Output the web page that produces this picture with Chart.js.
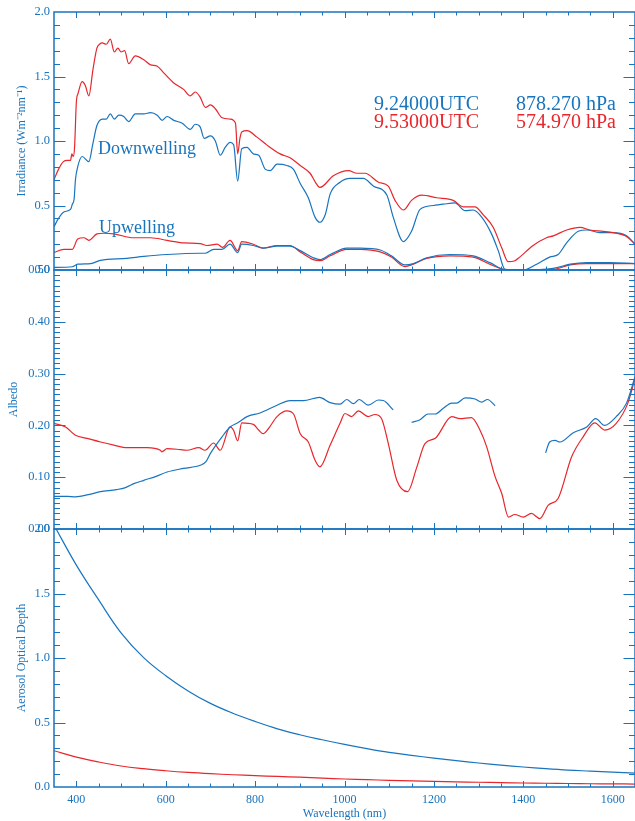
<!DOCTYPE html>
<html>
<head>
<meta charset="utf-8">
<script src="https://cdn.jsdelivr.net/npm/chart.js@4.4.1/dist/chart.umd.min.js"></script>
<style>
  html, body { margin: 0; padding: 0; background: #fff; overflow: hidden; width: 635px; height: 821px; }
  canvas { position: absolute; left: 0; }
</style>
</head>
<body>
<canvas id="irr" width="637" height="290" style="top:0"></canvas>
<canvas id="alb" width="637" height="300" style="top:250px"></canvas>
<canvas id="aod" width="637" height="312" style="top:509px"></canvas>
<script>
const BLUE = '#1874be';
const RED = '#e8262b';
const FONT = '"Liberation Serif", "Times New Roman", serif';

const xTicks = [400, 600, 800, 1000, 1200, 1400, 1600];
const irrTicks = [0, 0.5, 1.0, 1.5, 2.0];
const albTicks = [0, 0.1, 0.2, 0.3, 0.4, 0.5];
const aodTicks = [0, 0.5, 1.0, 1.5, 2.0];

// downwelling irradiance, 9.53 UTC (red)
const dnRedWl  = [350, 360, 371, 380, 387, 390, 393, 396, 400, 404, 413, 420, 428, 437, 446, 452, 458, 467, 476, 485, 493, 500, 508, 517, 532, 551, 566, 581, 595, 618, 640, 655, 666, 677, 689, 700, 711, 726, 744, 756, 761, 766, 770, 782, 804, 826, 856, 878, 901, 923, 935, 945, 975, 1009, 1028, 1046, 1076, 1098, 1113, 1132, 1150, 1173, 1206, 1243, 1266, 1292, 1310, 1333, 1352, 1366, 1380, 1392, 1422, 1452, 1467, 1497, 1527, 1549, 1579, 1601, 1631, 1650];
const dnRedVal = [0.70, 0.78, 0.84, 0.85, 0.85, 0.90, 0.88, 0.95, 1.30, 1.37, 1.46, 1.43, 1.35, 1.55, 1.72, 1.75, 1.76, 1.75, 1.79, 1.69, 1.72, 1.69, 1.70, 1.60, 1.66, 1.63, 1.59, 1.58, 1.53, 1.45, 1.40, 1.35, 1.38, 1.34, 1.26, 1.28, 1.25, 1.18, 1.17, 1.14, 0.90, 1.02, 1.07, 1.08, 1.03, 0.97, 0.90, 0.87, 0.81, 0.75, 0.68, 0.64, 0.73, 0.77, 0.75, 0.75, 0.68, 0.65, 0.54, 0.465, 0.54, 0.58, 0.56, 0.54, 0.49, 0.49, 0.43, 0.33, 0.17, 0.065, 0.07, 0.10, 0.19, 0.25, 0.265, 0.31, 0.33, 0.31, 0.30, 0.29, 0.26, 0.20];

// downwelling irradiance, 9.24 UTC (blue)
const dnBlueWl  = [350, 360, 372, 387, 391, 395, 398, 403, 413, 428, 437, 446, 458, 467, 476, 485, 495, 506, 517, 532, 551, 566, 581, 592, 603, 618, 636, 655, 666, 677, 686, 700, 711, 722, 733, 744, 752, 761, 770, 782, 796, 808, 823, 834, 849, 871, 886, 901, 919, 934, 945, 957, 968, 990, 1012, 1042, 1065, 1095, 1109, 1132, 1150, 1169, 1199, 1221, 1247, 1270, 1288, 1307, 1329, 1344, 1359, 1400, 1430, 1459, 1478, 1497, 1523, 1542, 1571, 1601, 1631, 1650];
const dnBlueVal = [0.335, 0.40, 0.45, 0.47, 0.51, 0.55, 0.70, 0.80, 0.88, 0.84, 0.98, 1.12, 1.17, 1.17, 1.21, 1.17, 1.20, 1.19, 1.15, 1.21, 1.21, 1.22, 1.20, 1.16, 1.19, 1.16, 1.14, 1.09, 1.13, 1.11, 1.02, 1.04, 1.00, 0.89, 0.95, 0.99, 0.97, 0.69, 0.94, 0.95, 0.90, 0.89, 0.78, 0.77, 0.82, 0.81, 0.78, 0.67, 0.56, 0.41, 0.37, 0.43, 0.59, 0.68, 0.71, 0.71, 0.65, 0.58, 0.41, 0.22, 0.30, 0.47, 0.50, 0.51, 0.52, 0.46, 0.465, 0.41, 0.28, 0.15, 0.005, 0.0, 0.045, 0.10, 0.12, 0.21, 0.30, 0.31, 0.29, 0.29, 0.265, 0.20];

// upwelling irradiance
const upRedWl  = [350, 372, 391, 403, 417, 428, 446, 461, 484, 528, 566, 603, 640, 677, 692, 715, 727, 744, 761, 770, 796, 818, 849, 878, 901, 930, 945, 968, 1005, 1035, 1080, 1105, 1135, 1154, 1184, 1236, 1288, 1325, 1359, 1392, 1467, 1505, 1542, 1594, 1650];
const upRedVal = [0.135, 0.16, 0.16, 0.24, 0.25, 0.23, 0.28, 0.285, 0.28, 0.25, 0.25, 0.23, 0.21, 0.205, 0.19, 0.20, 0.175, 0.23, 0.15, 0.22, 0.20, 0.17, 0.19, 0.19, 0.14, 0.08, 0.072, 0.11, 0.16, 0.16, 0.14, 0.10, 0.026, 0.045, 0.09, 0.11, 0.10, 0.045, 0.003, 0.0, 0.005, 0.04, 0.05, 0.05, 0.05];
const upBlueWl  = [350, 391, 403, 432, 454, 513, 551, 603, 677, 689, 707, 726, 744, 761, 770, 796, 818, 849, 878, 901, 930, 945, 968, 1005, 1035, 1080, 1105, 1135, 1154, 1184, 1236, 1288, 1325, 1359, 1392, 1467, 1505, 1542, 1594, 1650];
const upBlueVal = [0.02, 0.025, 0.045, 0.05, 0.075, 0.09, 0.105, 0.12, 0.13, 0.13, 0.16, 0.16, 0.20, 0.135, 0.20, 0.19, 0.17, 0.185, 0.185, 0.15, 0.095, 0.08, 0.12, 0.17, 0.17, 0.155, 0.11, 0.04, 0.05, 0.095, 0.12, 0.11, 0.057, 0.003, 0.0, 0.013, 0.045, 0.057, 0.057, 0.05];

// albedo
const albRedWl  = [350, 376, 398, 424, 454, 484, 514, 558, 588, 591, 603, 625, 647, 674, 688, 707, 722, 744, 752, 761, 770, 796, 808, 818, 830, 849, 871, 886, 901, 919, 934, 945, 968, 990, 1001, 1016, 1031, 1053, 1068, 1083, 1098, 1117, 1141, 1162, 1180, 1203, 1240, 1258, 1284, 1303, 1318, 1337, 1352, 1367, 1381, 1400, 1418, 1437, 1456, 1478, 1508, 1534, 1560, 1582, 1608, 1634, 1650];
const albRedVal = [0.204, 0.197, 0.181, 0.175, 0.168, 0.162, 0.157, 0.157, 0.152, 0.149, 0.155, 0.154, 0.152, 0.157, 0.152, 0.166, 0.152, 0.197, 0.190, 0.170, 0.205, 0.202, 0.191, 0.184, 0.194, 0.217, 0.228, 0.222, 0.184, 0.168, 0.133, 0.120, 0.162, 0.204, 0.223, 0.217, 0.228, 0.217, 0.221, 0.213, 0.165, 0.094, 0.072, 0.120, 0.165, 0.175, 0.217, 0.213, 0.215, 0.191, 0.159, 0.101, 0.068, 0.023, 0.028, 0.023, 0.030, 0.020, 0.046, 0.059, 0.139, 0.178, 0.205, 0.191, 0.204, 0.243, 0.291];
const albBlueWl  = [350, 380, 398, 430, 454, 490, 510, 530, 551, 580, 603, 640, 677, 690, 700, 726, 744, 761, 782, 811, 849, 878, 908, 944, 968, 990, 1005, 1020, 1033, 1053, 1076, 1087, 1109, 1130, 1150, 1169, 1187, 1203, 1221, 1240, 1251, 1270, 1292, 1307, 1320, 1337, 1400, 1450, 1459, 1471, 1482, 1512, 1542, 1562, 1582, 1608, 1631, 1650];
const albBlueVal = [0.063, 0.063, 0.062, 0.067, 0.072, 0.076, 0.080, 0.088, 0.094, 0.102, 0.110, 0.117, 0.123, 0.130, 0.146, 0.178, 0.197, 0.205, 0.217, 0.224, 0.239, 0.248, 0.248, 0.254, 0.244, 0.241, 0.250, 0.242, 0.250, 0.239, 0.249, 0.248, 0.230, null, 0.206, 0.211, 0.222, 0.222, 0.233, 0.243, 0.243, 0.253, 0.251, 0.245, 0.250, 0.238, null, 0.147, 0.168, 0.171, 0.168, 0.186, 0.197, 0.213, 0.200, 0.217, 0.243, 0.294];

// aerosol optical depth
const aodWl = [350, 400, 450, 500, 550, 600, 650, 700, 750, 800, 850, 900, 950, 1000, 1050, 1100, 1150, 1200, 1250, 1300, 1350, 1400, 1450, 1500, 1550, 1600, 1650];
const aodBlueVal = [2.03, 1.72, 1.45, 1.195, 1.005, 0.863, 0.745, 0.648, 0.572, 0.508, 0.451, 0.405, 0.366, 0.330, 0.297, 0.268, 0.245, 0.224, 0.204, 0.186, 0.170, 0.155, 0.142, 0.131, 0.123, 0.115, 0.108];
const aodRedVal  = [0.281, 0.232, 0.194, 0.163, 0.142, 0.126, 0.113, 0.103, 0.095, 0.088, 0.082, 0.076, 0.069, 0.062, 0.057, 0.052, 0.048, 0.044, 0.040, 0.037, 0.034, 0.031, 0.029, 0.027, 0.025, 0.024, 0.023];

const notes = [
  { text: 'Downwelling', x: 98, y: 153.5, size: 18, color: BLUE },
  { text: 'Upwelling', x: 99, y: 232.5, size: 18, color: BLUE },
  { text: '9.24000UTC', x: 374, y: 110, size: 20, color: BLUE },
  { text: '878.270 hPa', x: 516, y: 110, size: 20, color: BLUE },
  { text: '9.53000UTC', x: 374, y: 128, size: 20, color: RED },
  { text: '574.970 hPa', x: 516, y: 128, size: 20, color: RED }
];

function series(wl, val, color, smooth) {
  const d = {
    data: wl.map((w, i) => ({ x: w, y: val[i] })),
    borderColor: color,
    borderWidth: 1.2,
    pointRadius: 0,
    spanGaps: false
  };
  if (smooth) d.tension = 0.4;
  else d.cubicInterpolationMode = 'monotone';
  return d;
}

// frame with inward ticks on all four sides
const frameTicks = {
  id: 'frameTicks',
  afterDatasetsDraw(chart, args, o) {
    const { ctx, chartArea: a, scales: { x, y } } = chart;
    ctx.save();
    ctx.strokeStyle = BLUE;
    ctx.lineWidth = 1;
    ctx.beginPath();
    for (let w = 400; w < 1650; w += 50) {
      const px = Math.round(x.getPixelForValue(w)) + 0.5;
      const len = w % 200 === 0 ? 6 : 3.5;
      ctx.moveTo(px, a.top); ctx.lineTo(px, a.top + len);
      ctx.moveTo(px, a.bottom); ctx.lineTo(px, a.bottom - len);
    }
    const n = Math.round((y.max - y.min) / o.minor);
    for (let i = 1; i < n; i++) {
      const py = Math.round(y.getPixelForValue(y.min + i * o.minor)) + 0.5;
      const len = i % o.every === 0 ? 11.5 : 6;
      ctx.moveTo(a.left, py); ctx.lineTo(a.left + len, py);
      ctx.moveTo(a.right, py); ctx.lineTo(a.right - len, py);
    }
    ctx.stroke();
    ctx.lineWidth = 1.5;
    ctx.strokeRect(a.left, a.top, a.right - a.left, a.bottom - a.top);
    ctx.restore();
  }
};

const labels = {
  id: 'labels',
  afterDatasetsDraw(chart) {
    const ctx = chart.ctx;
    ctx.save();
    ctx.textBaseline = 'alphabetic';
    notes.forEach(t => {
      ctx.font = t.size + 'px ' + FONT;
      ctx.fillStyle = t.color;
      ctx.fillText(t.text, t.x, t.y);
    });
    ctx.restore();
  }
};

function panel(id, cfg) {
  const showX = !!cfg.showX;
  const xScale = {
    type: 'linear', min: 350, max: 1650, display: showX,
    afterBuildTicks: s => { s.ticks = xTicks.map(v => ({ value: v })); },
    grid: { display: false, drawTicks: false }, border: { display: false },
    ticks: { color: BLUE, padding: 6, font: { family: FONT, size: 12 }, callback: v => String(v) },
    title: { display: true, text: 'Wavelength (nm)', color: BLUE, padding: { top: 0, bottom: 0 }, font: { family: FONT, size: 12 } }
  };
  if (showX) xScale.afterFit = s => { s.height = 34; };
  return new Chart(document.getElementById(id), {
    type: 'line',
    data: { datasets: cfg.datasets },
    options: {
      responsive: false,
      animation: false,
      layout: { padding: cfg.padding },
      plugins: {
        legend: { display: false },
        tooltip: { enabled: false },
        frameTicks: { minor: cfg.minor, every: cfg.every }
      },
      scales: {
        x: xScale,
        y: {
          type: 'linear', min: cfg.min, max: cfg.max,
          afterBuildTicks: s => { s.ticks = cfg.ticks.map(v => ({ value: v })); },
          afterFit: s => { s.width = 54; },
          grid: { display: false, drawTicks: false }, border: { display: false },
          ticks: { color: BLUE, padding: 4, font: { family: FONT, size: 12.5 },
                   callback: v => v.toFixed(cfg.digits) },
          title: { display: true, text: cfg.title, color: BLUE,
                   padding: { top: cfg.titlePad, bottom: 0 }, font: { family: FONT, size: 12 } }
        }
      }
    },
    plugins: cfg.extra ? [frameTicks, cfg.extra] : [frameTicks]
  });
}

panel('irr', {
  datasets: [
    series(dnRedWl, dnRedVal, RED),
    series(dnBlueWl, dnBlueVal, BLUE),
    series(upBlueWl, upBlueVal, BLUE),
    series(upRedWl, upRedVal, RED)
  ],
  padding: { top: 12, bottom: 20, left: 0, right: 2 },
  min: 0, max: 2, ticks: irrTicks, digits: 1, minor: 0.1, every: 5,
  title: 'Irradiance (Wm\u207B\u00B2nm\u207B\u00B9)', titlePad: 15,
  extra: labels
});

panel('alb', {
  datasets: [
    series(albBlueWl, albBlueVal, BLUE),
    series(albRedWl, albRedVal, RED)
  ],
  padding: { top: 20, bottom: 21, left: 0, right: 2 },
  min: 0, max: 0.5, ticks: albTicks, digits: 2, minor: 0.01, every: 10,
  title: 'Albedo', titlePad: 7
});

panel('aod', {
  datasets: [
    series(aodWl, aodBlueVal, BLUE, true),
    series(aodWl, aodRedVal, RED, true)
  ],
  padding: { top: 20, bottom: 0, left: 0, right: 2 },
  min: 0, max: 2, ticks: aodTicks, digits: 1, minor: 0.1, every: 5,
  title: 'Aerosol Optical Depth', titlePad: 15,
  showX: true
});
</script>
</body>
</html>
